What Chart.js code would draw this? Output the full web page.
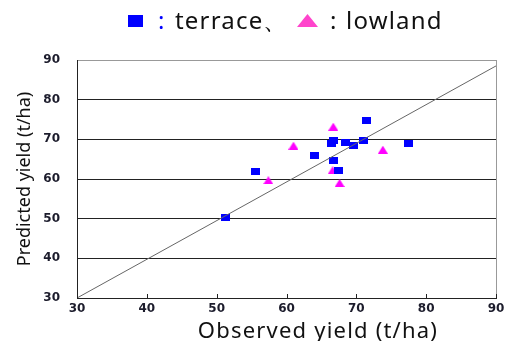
<!DOCTYPE html>
<html>
<head>
<meta charset="utf-8">
<script src="https://cdn.jsdelivr.net/npm/chart.js@4.4.1/dist/chart.umd.min.js"></script>
<style>
  html, body { margin: 0; padding: 0; background: #fff; }
  #wrap { width: 505px; height: 341px; position: relative; }
</style>
</head>
<body>
<div id="wrap"><canvas id="c" width="505" height="341"></canvas></div>
<script>
// Observed vs predicted yield (t/ha)
const terraceObserved  = [51.2, 55.6, 64.0, 66.7, 66.5, 66.7, 67.4, 68.5, 69.6, 71.0, 71.4, 77.4];
const terracePredicted = [50.3, 62.0, 66.0, 69.8, 69.0, 64.6, 62.2, 69.2, 68.5, 69.8, 74.8, 69.0];
const lowlandObserved  = [57.4, 61.0, 66.6, 66.7, 67.6, 73.8];
const lowlandPredicted = [59.7, 68.4, 62.2, 73.2, 59.0, 67.4];
const refLineX = [30, 90];
const refLineY = [30, 88.5];
const axisTicks = [30, 40, 50, 60, 70, 80, 90];

const BLUE = '#0000ff';
const MAGENTA = '#ff00ff';

function markerCanvas(w, h, paint) {
  const c = document.createElement('canvas');
  c.width = w; c.height = h;
  paint(c.getContext('2d'), w, h);
  return c;
}
const squareMark = markerCanvas(9, 7, (g, w, h) => {
  g.fillStyle = BLUE; g.fillRect(0, 0, w, h);
});
const triangleMark = markerCanvas(10, 8, (g, w, h) => {
  g.fillStyle = MAGENTA;
  g.beginPath(); g.moveTo(w / 2, 0); g.lineTo(w, h); g.lineTo(0, h); g.closePath(); g.fill();
});

const pairs = (xs, ys) => xs.map((x, i) => ({ x, y: ys[i] }));

// legend, axis titles, inner x tick marks and right border
const decorations = {
  id: 'decorations',
  afterDraw(chart) {
    const { ctx, chartArea: a, scales } = chart;
    ctx.save();
    // right border
    ctx.strokeStyle = '#999';
    ctx.lineWidth = 1;
    ctx.beginPath();
    ctx.moveTo(a.right + 0.5, a.top); ctx.lineTo(a.right + 0.5, a.bottom);
    ctx.stroke();
    // x tick marks pointing into the plot
    ctx.strokeStyle = '#222';
    axisTicks.forEach(v => {
      const px = Math.round(scales.x.getPixelForValue(v)) + 0.5;
      ctx.beginPath(); ctx.moveTo(px, a.bottom); ctx.lineTo(px, a.bottom - 4); ctx.stroke();
    });

    // legend line
    ctx.font = '24px "Noto Sans", sans-serif';
    ctx.letterSpacing = '1.2px';
    ctx.textBaseline = 'alphabetic';
    ctx.textAlign = 'left';
    const ly = 29;
    ctx.fillStyle = BLUE;
    ctx.fillRect(128, 15, 15, 12);
    ctx.fillText(':', 158, ly);
    ctx.fillStyle = '#111';
    ctx.fillText('terrace、', 175, ly);
    ctx.fillStyle = '#ff44cc';
    ctx.beginPath(); ctx.moveTo(307.5, 14); ctx.lineTo(318, 27); ctx.lineTo(297, 27); ctx.closePath(); ctx.fill();
    ctx.fillStyle = '#111';
    ctx.fillText(':', 330, ly);
    ctx.fillText('lowland', 346, ly);

    // x axis title
    ctx.font = '22px "Noto Sans", sans-serif';
    ctx.letterSpacing = '1.2px';
    ctx.textAlign = 'center';
    ctx.fillText('Observed yield (t/ha)', 318, 338);

    // y axis title
    ctx.font = '18px "Noto Sans", sans-serif';
    ctx.letterSpacing = '0px';
    ctx.textBaseline = 'middle';
    ctx.translate(25, 179);
    ctx.rotate(-Math.PI / 2);
    ctx.fillText('Predicted yield (t/ha)', 0, 0);
    ctx.restore();
  }
};

new Chart(document.getElementById('c'), {
  data: {
    datasets: [
      {
        type: 'line',
        label: '1:1',
        data: pairs(refLineX, refLineY),
        borderColor: '#666',
        borderWidth: 1,
        pointRadius: 0,
        fill: false
      },
      {
        type: 'scatter',
        label: 'terrace',
        data: pairs(terraceObserved, terracePredicted),
        pointStyle: squareMark,
        backgroundColor: BLUE
      },
      {
        type: 'scatter',
        label: 'lowland',
        data: pairs(lowlandObserved, lowlandPredicted),
        pointStyle: triangleMark,
        backgroundColor: MAGENTA
      }
    ]
  },
  options: {
    responsive: false,
    animation: false,
    layout: { padding: { top: 60, right: 9, left: 0, bottom: 0 } },
    plugins: { legend: { display: false }, tooltip: { enabled: false } },
    scales: {
      x: {
        type: 'linear',
        min: 30, max: 90,
        afterBuildTicks: s => { s.ticks = axisTicks.map(v => ({ value: v })); },
        afterFit: s => { s.height = 43; s.paddingLeft = 0; s.paddingRight = 0; },
        grid: { drawOnChartArea: false, drawTicks: false },
        border: { color: '#222', width: 1 },
        ticks: {
          padding: 4,
          color: '#1c1c2c',
          font: { family: '"DejaVu Sans"', size: 12, weight: 'bold' },
          maxRotation: 0
        }
      },
      y: {
        type: 'linear',
        min: 30, max: 90,
        afterBuildTicks: s => { s.ticks = axisTicks.map(v => ({ value: v })); },
        afterFit: s => { s.width = 77; s.paddingTop = 0; s.paddingBottom = 0; },
        grid: {
          drawTicks: false,
          color: c => (c.tick && c.tick.value === 90 ? '#999' : '#222'),
          lineWidth: 1
        },
        border: { color: '#222', width: 1 },
        ticks: {
          padding: 17,
          color: '#1c1c2c',
          font: { family: '"DejaVu Sans"', size: 12, weight: 'bold' }
        }
      }
    }
  },
  plugins: [decorations]
});
</script>
</body>
</html>
